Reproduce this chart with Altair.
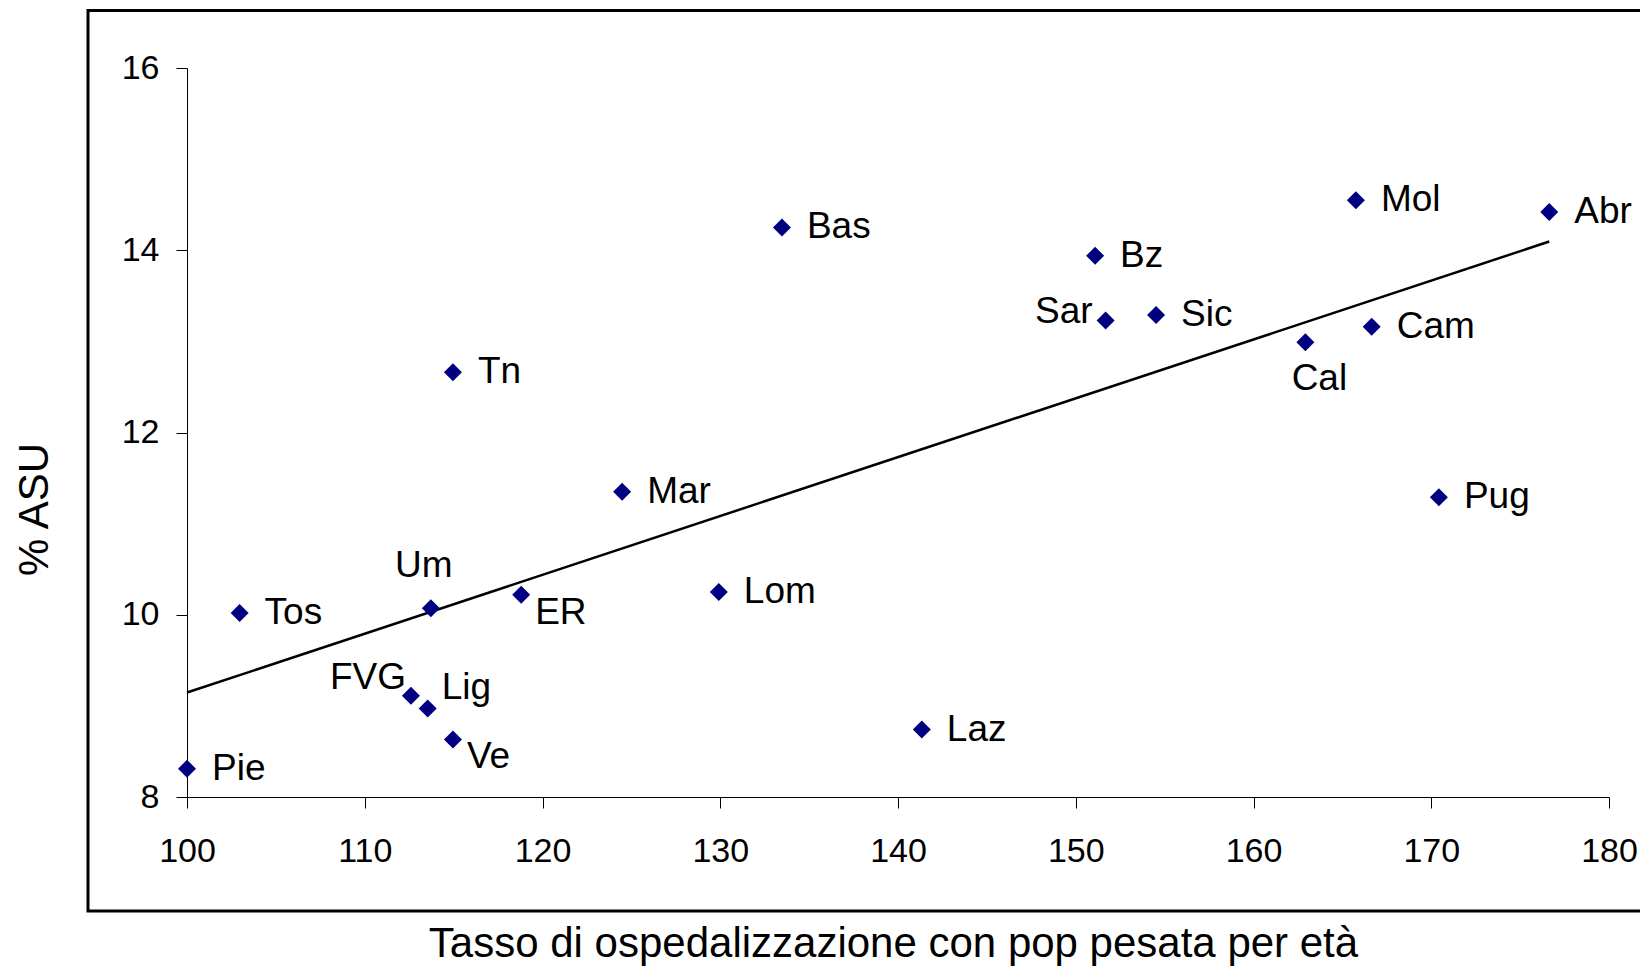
import altair as alt
import pandas as pd

regions = ["Pie", "Tos", "Um", "ER", "FVG", "Lig", "Ve", "Tn", "Mar", "Lom",
           "Bas", "Laz", "Bz", "Sar", "Sic", "Cal", "Mol", "Cam", "Pug", "Abr"]
tasso = [100.0, 102.96, 113.72, 118.8, 112.6, 113.54, 114.96, 114.96, 124.48, 129.92,
         133.47, 141.34, 151.09, 151.68, 154.52, 162.92, 165.76, 166.65, 170.43, 176.64]
asu = [8.31, 10.02, 10.07, 10.22, 9.11, 8.97, 8.63, 12.66, 11.35, 10.25,
       14.25, 8.74, 13.94, 13.23, 13.29, 12.99, 14.55, 13.16, 11.29, 14.42]

x_ticks = [100, 110, 120, 130, 140, 150, 160, 170, 180]
y_ticks = [8, 10, 12, 14, 16]

df = pd.DataFrame({"reg": regions, "tasso": tasso, "asu": asu})

W, H = 1422, 729
FONT = "Liberation Sans"
NAVY = "#000080"

# label placement (align, dx, dy) for labels not placed at the default right side
special = {
    "Um": ("center", -7, -42),
    "ER": ("left", 14, 18),
    "FVG": ("right", -5, -18),
    "Lig": ("left", 14, -21),
    "Ve": ("left", 14, 17),
    "Sar": ("right", -13, -8),
    "Cal": ("center", 14, 37),
}

axis_style = dict(grid=False, tickSize=11, labelFont=FONT, labelFontSize=34, labelColor="black",
                  titleFont=FONT, titleFontSize=42, titleColor="black", titleFontWeight="normal",
                  domainColor="black", domainWidth=1, tickColor="black", tickWidth=1, format="d",
                  labelFlush=False)

xenc = alt.X("tasso:Q",
             scale=alt.Scale(domain=[100, 180], nice=False, zero=False),
             axis=alt.Axis(values=x_ticks, title="Tasso di ospedalizzazione con pop pesata per età",
                           labelPadding=26,
                           titleX=706, titleY=159, titleBaseline="alphabetic", titleAlign="center",
                           **axis_style))
yenc = alt.Y("asu:Q",
             scale=alt.Scale(domain=[8, 16], nice=False, zero=False),
             axis=alt.Axis(values=y_ticks, title="% ASU",
                           labelPadding=17,
                           titleX=-153, titleY=441, titleBaseline="middle", titleAlign="center",
                           **axis_style))

base = alt.Chart(df)

points = base.mark_point(shape="diamond", filled=True, size=324, color=NAVY, opacity=1).encode(
    x=xenc, y=yenc)

trend = base.transform_regression("tasso", "asu").mark_line(color="black", strokeWidth=2.5).encode(
    x="tasso:Q", y="asu:Q")

default_labels = base.transform_filter(
    alt.FieldOneOfPredicate(field="reg", oneOf=[r for r in regions if r not in special])
).mark_text(align="left", baseline="middle", dx=25, font=FONT, fontSize=37, color="black").encode(
    x="tasso:Q", y="asu:Q", text="reg:N")

layers = [trend, points, default_labels]
for name, (al, dx, dy) in special.items():
    layers.append(
        base.transform_filter(alt.datum.reg == name)
        .mark_text(align=al, baseline="middle", dx=dx, dy=dy, font=FONT, fontSize=37, color="black")
        .encode(x="tasso:Q", y="asu:Q", text="reg:N")
    )

frame = alt.Chart(pd.DataFrame({"a": [0]})).mark_rect(
    fill="transparent", stroke="black", strokeWidth=3).encode(
    x=alt.value(-99), x2=alt.value(1470), y=alt.value(-57.5), y2=alt.value(843))

chart = alt.layer(frame, *layers).properties(
    width=W, height=H,
    background="white",
    autosize=alt.AutoSizeParams(type="none"),
    padding={"left": 179, "top": 60, "right": 31, "bottom": 170},
).configure_view(stroke=None)

chart.save("out.html", embed_options={"renderer": "svg", "actions": False})
